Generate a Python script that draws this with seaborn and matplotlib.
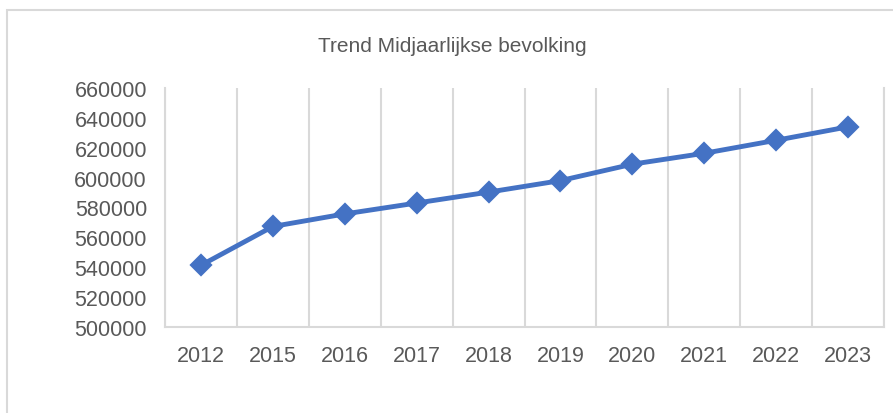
import numpy as np
import pandas as pd
import seaborn as sns
import matplotlib.pyplot as plt
from matplotlib.patches import Rectangle

# Data
jaren = ['2012', '2015', '2016', '2017', '2018', '2019', '2020', '2021', '2022', '2023']
bevolking = [541300, 567300, 575700, 583000, 590300, 598000, 609000, 616300, 625000, 634000]
y_ticks = [500000, 520000, 540000, 560000, 580000, 600000, 620000, 640000, 660000]

df = pd.DataFrame({'jaar': jaren, 'bevolking': bevolking})

sns.set_theme(style='white')
plt.rcParams['font.family'] = ['Liberation Sans', 'DejaVu Sans']

grijs = '#d9d9d9'
tekst = '#595959'
blauw = '#4472c4'

fig = plt.figure(figsize=(8.93, 4.14), dpi=100)
ax = fig.add_axes([165 / 893, 1 - 328 / 414, (884 - 165) / 893, (328 - 89) / 414])

sns.pointplot(data=df, x='jaar', y='bevolking', order=jaren, ax=ax,
              color=blauw, markers='D', linestyles='-', errorbar=None,
              markersize=9, linewidth=3.5)

ax.set_xlim(-0.5, len(jaren) - 0.5)
ax.set_ylim(y_ticks[0], y_ticks[-1])
ax.set_yticks(y_ticks)
ax.set_yticklabels([str(v) for v in y_ticks])
ax.set_xlabel('')
ax.set_ylabel('')

# verticale rasterlijnen tussen de categorieën
ax.set_xticks(np.arange(-0.5, len(jaren), 1), minor=True)
ax.grid(axis='x', which='minor', color=grijs, linewidth=1.5)
ax.grid(axis='x', which='major', visible=False)
ax.grid(axis='y', visible=False)

ax.tick_params(axis='y', which='both', length=0, pad=13, labelsize=15.5, labelcolor=tekst)
ax.tick_params(axis='x', which='both', length=0, pad=13, labelsize=15.5, labelcolor=tekst)

for s in ['left', 'right', 'bottom']:
    ax.spines[s].set_color(grijs)
    ax.spines[s].set_linewidth(1.5)
ax.spines['top'].set_visible(False)

fig.text(452 / 893, 1 - 47 / 414, 'Trend Midjaarlijkse bevolking',
         ha='center', va='center', fontsize=15, color=tekst)

# kader van de grafiek
fig.add_artist(Rectangle((7 / 893, -0.1), 2, (414 - 11) / 414 + 0.1,
                         transform=fig.transFigure, fill=False,
                         edgecolor=grijs, linewidth=1.5))

fig.savefig('out.png', dpi=100)
